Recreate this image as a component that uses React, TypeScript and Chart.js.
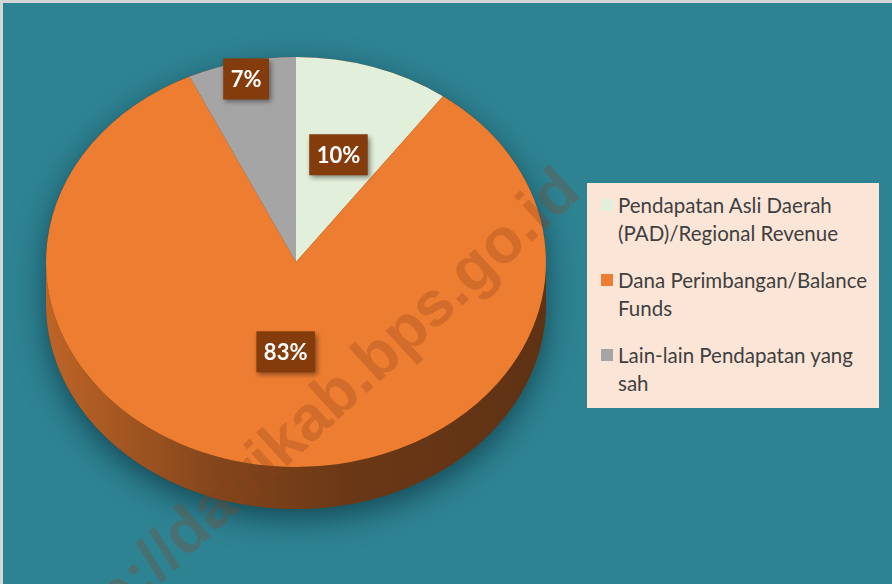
import React, { useEffect, useRef } from "react";
import { Chart, registerables } from "chart.js";

Chart.register(...registerables);

// ---- data ----
const categories = [
  "Pendapatan Asli Daerah (PAD)/Regional Revenue",
  "Dana Perimbangan/Balance Funds",
  "Lain-lain Pendapatan yang sah",
];
const shares = [10, 83, 7];
const percentLabels = ["10%", "83%", "7%"];
const sliceColors = ["#E2EFDA", "#ED7D31", "#A5A5A5"];
const watermarkText = "http://dairikab.bps.go.id";

// ---- style constants ----
const BG = "#2E8393";
const TILT = 0.82;
const DEPTH = 42;
const LABEL_RADIUS = [0.55, 0.44, 0.915];
const LABEL_FONT = 'bold 22px "Lato", "Open Sans", sans-serif';

function hexToRgb(hex: string) {
  const n = parseInt(hex.slice(1), 16);
  return [(n >> 16) & 255, (n >> 8) & 255, n & 255];
}
function shade(hex: string, f: number) {
  const [r, g, b] = hexToRgb(hex);
  return `rgb(${Math.round(r * f)},${Math.round(g * f)},${Math.round(b * f)})`;
}

const pie3d = {
  id: "pie3d",
  beforeDatasetsDraw(chart: any) {
    const ctx: CanvasRenderingContext2D = chart.ctx;
    const arcs = chart.getDatasetMeta(0).data;
    if (!arcs.length) return;
    const { x: cx, y: cy, outerRadius: r } = arcs[0].getProps(["x", "y", "outerRadius"], true);
    const rx = r;
    const ry = r * TILT;

    // shadow silhouette
    ctx.save();
    ctx.shadowColor = "rgba(0,25,35,0.55)";
    ctx.shadowBlur = 30;
    ctx.shadowOffsetY = 10;
    ctx.beginPath();
    ctx.ellipse(cx, cy, rx, ry, 0, Math.PI, 0);
    ctx.lineTo(cx + rx, cy + DEPTH);
    ctx.ellipse(cx, cy + DEPTH, rx, ry, 0, 0, Math.PI);
    ctx.closePath();
    ctx.fillStyle = "#6E3812";
    ctx.fill();
    ctx.restore();

    // side walls of the front half
    arcs.forEach((arc: any, i: number) => {
      const { startAngle, endAngle } = arc.getProps(["startAngle", "endAngle"], true);
      for (let k = -1; k <= 1; k++) {
        const s = Math.max(startAngle + k * 2 * Math.PI, 0);
        const e = Math.min(endAngle + k * 2 * Math.PI, Math.PI);
        if (e <= s) continue;
        const col = sliceColors[i];
        const grad = ctx.createLinearGradient(cx - rx, 0, cx + rx, 0);
        grad.addColorStop(0, shade(col, 0.8));
        grad.addColorStop(0.35, shade(col, 0.55));
        grad.addColorStop(0.6, shade(col, 0.45));
        grad.addColorStop(1, shade(col, 0.4));
        ctx.save();
        ctx.beginPath();
        ctx.ellipse(cx, cy, rx, ry, 0, s, e);
        ctx.lineTo(cx + rx * Math.cos(e), cy + ry * Math.sin(e) + DEPTH);
        ctx.ellipse(cx, cy + DEPTH, rx, ry, 0, e, s, true);
        ctx.closePath();
        ctx.fillStyle = grad;
        ctx.fill();
        ctx.restore();
      }
    });

    // squash the top face into an ellipse
    ctx.save();
    ctx.translate(cx, cy);
    ctx.scale(1, TILT);
    ctx.translate(-cx, -cy);
  },
  afterDatasetsDraw(chart: any) {
    const ctx: CanvasRenderingContext2D = chart.ctx;
    ctx.restore();
    const arcs = chart.getDatasetMeta(0).data;
    if (!arcs.length) return;

    // data labels
    arcs.forEach((arc: any, i: number) => {
      const { x, y, outerRadius, startAngle, endAngle } = arc.getProps(
        ["x", "y", "outerRadius", "startAngle", "endAngle"],
        true
      );
      const mid = (startAngle + endAngle) / 2;
      const f = LABEL_RADIUS[i];
      const px = x + Math.cos(mid) * outerRadius * f;
      const py = y + Math.sin(mid) * outerRadius * f * TILT;
      ctx.save();
      ctx.font = LABEL_FONT;
      const text = percentLabels[i];
      const w = ctx.measureText(text).width + 15;
      const h = 41;
      ctx.shadowColor = "rgba(0,0,0,0.45)";
      ctx.shadowBlur = 5;
      ctx.shadowOffsetX = 2;
      ctx.shadowOffsetY = 3;
      ctx.fillStyle = "#843C0C";
      ctx.fillRect(px - w / 2, py - h / 2, w, h);
      ctx.shadowColor = "transparent";
      ctx.fillStyle = "#FFFFFF";
      ctx.textAlign = "center";
      ctx.textBaseline = "middle";
      ctx.fillText(text, px, py + 1);
      ctx.restore();
    });

    // watermark
    ctx.save();
    ctx.translate(583, 195);
    ctx.rotate((-42.5 * Math.PI) / 180);
    ctx.font = 'bold 63px "Liberation Sans", Arial, sans-serif';
    ctx.fillStyle = "rgba(140,65,30,0.28)";
    ctx.textAlign = "right";
    ctx.textBaseline = "alphabetic";
    ctx.fillText(watermarkText, 0, 0);
    ctx.restore();
  },
};

function Legend() {
  return (
    <div
      style={{
        position: "absolute",
        left: 587,
        top: 183,
        width: 292,
        height: 225,
        background: "#FBE5D7",
        boxSizing: "border-box",
        padding: "8px 6px 0 14px",
        fontFamily: '"Lato", "Open Sans", sans-serif',
        fontSize: 20.5,
        lineHeight: "28px",
        color: "#404040",
      }}
    >
      {categories.map((c, i) => (
        <div key={c} style={{ display: "flex", alignItems: "flex-start", marginBottom: 19 }}>
          <div
            style={{
              width: 12,
              height: 12,
              marginTop: 8,
              marginRight: 5,
              flex: "0 0 12px",
              background: sliceColors[i],
            }}
          />
          <div style={{ width: 256 }}>{c}</div>
        </div>
      ))}
    </div>
  );
}

export default function App() {
  const canvasRef = useRef<HTMLCanvasElement | null>(null);

  useEffect(() => {
    document.body.style.margin = "0";
    const canvas = canvasRef.current;
    if (!canvas) return;
    const chart = new Chart(canvas, {
      type: "pie",
      data: {
        labels: categories,
        datasets: [
          {
            data: shares,
            backgroundColor: sliceColors,
            borderWidth: 0,
          },
        ],
      },
      options: {
        responsive: false,
        animation: false,
        layout: { padding: { left: 46, right: 346, top: 12, bottom: 72 } },
        plugins: {
          legend: { display: false },
          tooltip: { enabled: false },
        },
      },
      plugins: [pie3d],
    });
    return () => chart.destroy();
  }, []);

  return (
    <div
      style={{
        position: "relative",
        width: 892,
        height: 584,
        background: "#D6D6D6",
        overflow: "hidden",
      }}
    >
      <div
        style={{
          position: "absolute",
          left: 3,
          top: 3,
          right: 0,
          bottom: 0,
          background: BG,
        }}
      />
      <canvas
        ref={canvasRef}
        width={892}
        height={584}
        style={{ position: "absolute", left: 0, top: 0, width: 892, height: 584 }}
      />
      <Legend />
    </div>
  );
}
